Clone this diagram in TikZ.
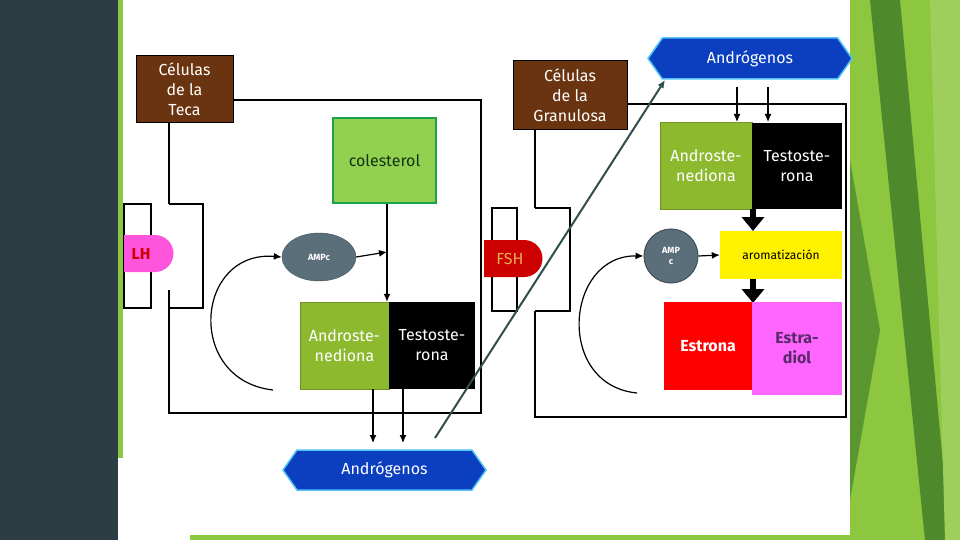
\documentclass[tikz,border=0pt]{standalone}
\usepackage{fontspec}
\setmainfont{Fira Sans}
\usepackage{tikz}
\usetikzlibrary{calc,positioning,shapes.symbols,shapes.geometric,arrows.meta}

\definecolor{slate}{HTML}{2C3E44}
\definecolor{leaf}{HTML}{8DC63F}
\definecolor{leafdark}{HTML}{4E8A2C}
\definecolor{brownbox}{HTML}{6B3410}
\definecolor{limebox}{HTML}{92D050}
\definecolor{olivebox}{HTML}{8DB92F}
\definecolor{ampgray}{HTML}{5B6F7B}
\definecolor{hexblue}{HTML}{0B3FBF}
\definecolor{hexedge}{HTML}{4FC3F7}
\definecolor{fshred}{HTML}{CC0000}
\definecolor{lhpink}{HTML}{FF55DD}
\definecolor{estpink}{HTML}{FF66FF}
\definecolor{purpletxt}{HTML}{5A2A6A}

\newcommand{\bigtxt}{\fontsize{16}{20}\selectfont}

\tikzset{
  cell/.style={line width=1.6pt},
  brownlbl/.style={draw=black,line width=1pt,fill=brownbox,text=white,font=\bigtxt,align=center,inner sep=0pt},
  hormbox/.style={inner sep=0pt,align=center,font=\bigtxt},
  hexa/.style={signal,signal to=west and east,signal pointer angle=110,fill=hexblue,draw=hexedge,line width=1.5pt,
     text=white,font=\bigtxt,inner sep=2pt},
  arr/.style={-{Latex[length=8pt,width=7pt]},line width=1.2pt},
  fatarr/.style={-{Triangle[length=14pt,width=22pt]},line width=6pt},
}

\begin{document}
\begin{tikzpicture}[x=1pt,y=-1pt]
  \useasboundingbox (0,0) rectangle (960,540);
  % slide background
  \fill[white] (0,0) rectangle (960,540);
  \fill[slate] (0,0) rectangle (118,540);
  \fill[leaf] (118,0) rectangle (123,458);
  \fill[leaf] (850,0) rectangle (960,540);
  \fill[leafdark] (870,0) -- (900,0) -- (950,540) -- (925,540) -- cycle;
  \fill[leafdark!80!leaf] (850,160) -- (880,330) -- (850,500) -- cycle;
  \fill[leaf!85!white] (930,0) -- (960,0) -- (960,540) -- (945,540) -- cycle;
  \fill[leaf] (190,535) rectangle (850,540);

  % ---- celulas de la teca ----
  \draw[cell] (233,100) -- (481,100) -- (481,413) -- (169,413) -- (169,308);
  \draw[cell] (169,123) -- (169,204);
  \draw[line width=1.2pt] (169,204) -- (203,204) -- (203,308) -- (169,308) -- (169,290);
  \draw[line width=1.2pt] (124,204) rectangle (151,308);
  \node[brownlbl,minimum width=97pt,minimum height=67pt] (teca) at (184.5,89.5) {Células\\de la\\Teca};
  \fill[lhpink] (124,235) -- (155,235) arc[start angle=-90,end angle=90,radius=18.5] -- (124,272) -- cycle;
  \node[text=fshred,font=\bigtxt\bfseries] (lh) at (141,253.5) {LH};

  \node[hormbox,fill=limebox,draw={rgb,255:red,26;green,163;blue,74},line width=1.5pt,
        minimum width=103pt,minimum height=85pt,text={rgb,255:red,20;green,50;blue,20}] (col) at (384.5,160.5) {colesterol};
  \node[ellipse,fill=ampgray,draw=ampgray!70!black,minimum width=74pt,minimum height=48pt,text=white,font=\bfseries\small,inner sep=0pt] (ampt) at (319,257) {AMPc};
  \coordinate (jt) at (387,252);
  \draw[arr] (ampt.east) -- (jt);
  \node[hormbox,fill=olivebox,draw=olivebox!80!black,minimum width=89pt,minimum height=87pt,text=white] (andt) at (344.5,345.5) {Androste-\\nediona};
  \node[hormbox,fill=black,minimum width=86pt,minimum height=87pt,text=white] (testt) at (432,345.5) {Testoste-\\rona};
  \draw[arr] (col.south -| jt) -- (jt |- andt.north);
  \coordinate (ct) at (273,390);
  \draw[arr] (ct) .. controls (185,380) and (195,250) .. (ampt.west);

  \node[hexa,minimum width=203pt,minimum height=40pt] (androb) at (384.5,470) {Andrógenos};
  \draw[arr] (373,389) -- (373,443);
  \draw[arr] (403,389) -- (403,443);

  % ---- celulas de la granulosa ----
  \draw[cell] (627,104) -- (846,104) -- (846,417) -- (535,417) -- (535,311);
  \draw[cell] (535,130) -- (535,208);
  \draw[line width=1.2pt] (535,208) -- (570,208) -- (570,311) -- (535,311);
  \draw[line width=1.2pt] (492,208) rectangle (517,311);
  \node[brownlbl,minimum width=114pt,minimum height=69pt] (gran) at (570,95.5) {Células\\de la\\Granulosa};
  \fill[fshred] (484,240) -- (524,240) arc[start angle=-90,end angle=90,radius=18.5] -- (484,277) -- cycle;
  \node[text={rgb,255:red,224;green,176;blue,80},font=\bigtxt] (fsh) at (510,259) {FSH};

  \node[hexa,minimum width=204pt,minimum height=41pt] (androt) at (750,58.5) {Andrógenos};
  \draw[arr] (737,87) -- (737,122);
  \draw[arr] (768,87) -- (768,122);
  \node[hormbox,fill=olivebox,draw=olivebox!80!black,line width=1pt,minimum width=92pt,minimum height=86pt,text=white] (andg) at (706,166) {Androste-\\nediona};
  \node[hormbox,fill=black,minimum width=90pt,minimum height=86pt,text=white] (testg) at (797,166) {Testoste-\\rona};
  \node[hormbox,fill=yellow,minimum width=122pt,minimum height=48pt,font=\large] (arom) at (781,255) {aromatización};
  \node[circle,fill=ampgray,draw=ampgray!70!black,line width=1pt,minimum size=54pt,text=white,font=\bfseries\small,align=center,inner sep=0pt] (ampg) at (671,256) {AMP\\c};
  \draw[arr] (ampg.east) -- (arom.west);
  \draw[fatarr] (753,209) -- (753,231);
  \draw[fatarr] (753,279) -- (753,303);
  \node[hormbox,fill=red,minimum width=88pt,minimum height=88pt,text=white,font=\bigtxt\bfseries] (estr) at (708,346) {Estrona};
  \node[hormbox,fill=estpink,minimum width=90pt,minimum height=93pt,text=purpletxt,font=\bigtxt\bfseries] (estd) at (797,348.5) {Estra-\\diol};
  \coordinate (cg) at (637,393);
  \draw[arr] (cg) .. controls (555,385) and (565,255) .. (ampg.west);

  % androgenos pasan a la granulosa
  \coordinate (tail) at (435,438);
  \coordinate (tip) at (665,80);
  \draw[arr,color={rgb,255:red,47;green,79;blue,79},line width=2pt] (tail) -- (tip);
\end{tikzpicture}
\end{document}
